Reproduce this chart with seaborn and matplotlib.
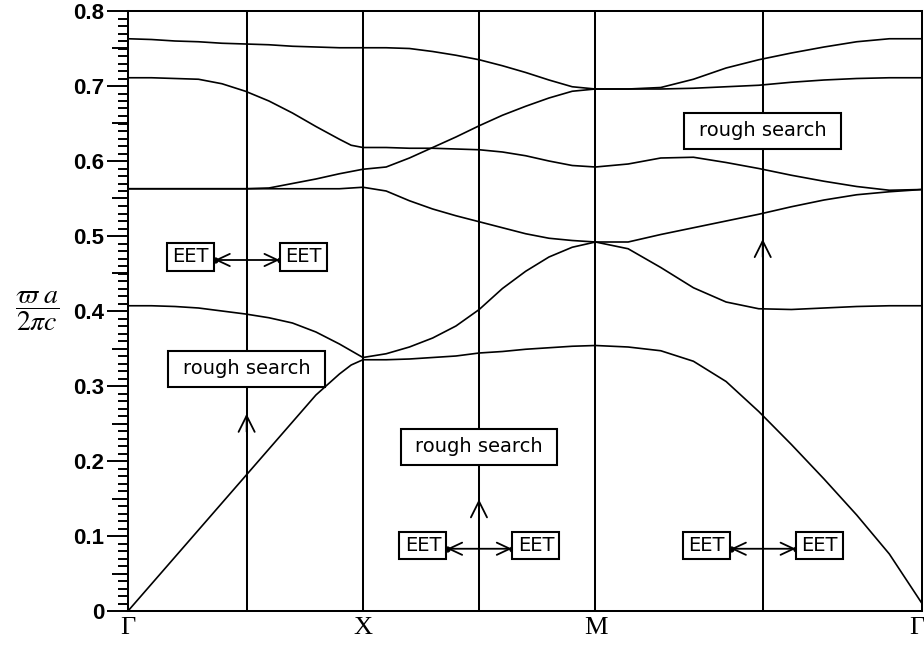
import numpy as np
import pandas as pd
import matplotlib
matplotlib.use("Agg")
import matplotlib.pyplot as plt
import matplotlib.transforms as mtransforms
from matplotlib.ticker import MultipleLocator, NullFormatter
import seaborn as sns

# High-symmetry points along the path Γ-X-M-Γ (path length coordinate)
sym_labels = ["Γ", "X", "M", "Γ"]
sym_k = [0.0, 1.0, 1.99, 3.38]

# Sample positions inside each segment, as fraction of the segment
frac_GX = [0.0, 0.1, 0.2, 0.3, 0.4, 0.5, 0.6, 0.7, 0.8, 0.9, 0.95, 1.0]
frac_XM = [0.1, 0.2, 0.3, 0.4, 0.5, 0.6, 0.7, 0.8, 0.9, 1.0]
frac_MG = [0.1, 0.2, 0.3, 0.4, 0.5, 0.6, 0.7, 0.8, 0.9, 1.0]

# Normalised frequencies (ωa/2πc) of the six lowest bands
band1 = ([0.000, 0.036, 0.072, 0.108, 0.144, 0.180, 0.216, 0.252, 0.288, 0.316, 0.328, 0.335]
         + [0.335, 0.336, 0.338, 0.340, 0.344, 0.346, 0.349, 0.351, 0.353, 0.354]
         + [0.352, 0.347, 0.333, 0.306, 0.266, 0.222, 0.176, 0.128, 0.076, 0.010])
band2 = ([0.407, 0.407, 0.406, 0.404, 0.400, 0.396, 0.391, 0.384, 0.372, 0.356, 0.347, 0.338]
         + [0.343, 0.352, 0.364, 0.380, 0.402, 0.430, 0.453, 0.472, 0.485, 0.492]
         + [0.483, 0.458, 0.431, 0.412, 0.403, 0.402, 0.404, 0.406, 0.407, 0.407])
band3 = ([0.563, 0.563, 0.563, 0.563, 0.563, 0.563, 0.563, 0.563, 0.563, 0.563, 0.564, 0.565]
         + [0.560, 0.547, 0.536, 0.527, 0.519, 0.511, 0.503, 0.497, 0.494, 0.492]
         + [0.492, 0.502, 0.511, 0.520, 0.529, 0.539, 0.548, 0.555, 0.559, 0.562])
band4 = ([0.563, 0.563, 0.563, 0.563, 0.563, 0.563, 0.564, 0.570, 0.576, 0.583, 0.586, 0.589]
         + [0.592, 0.604, 0.618, 0.632, 0.647, 0.661, 0.673, 0.684, 0.693, 0.696]
         + [0.696, 0.696, 0.697, 0.699, 0.701, 0.705, 0.708, 0.710, 0.711, 0.711])
band5 = ([0.711, 0.711, 0.710, 0.709, 0.703, 0.693, 0.680, 0.664, 0.646, 0.629, 0.621, 0.618]
         + [0.618, 0.617, 0.617, 0.616, 0.615, 0.612, 0.607, 0.600, 0.594, 0.592]
         + [0.596, 0.604, 0.605, 0.598, 0.590, 0.581, 0.573, 0.566, 0.561, 0.562])
band6 = ([0.763, 0.762, 0.760, 0.759, 0.757, 0.756, 0.755, 0.753, 0.752, 0.751, 0.751, 0.751]
         + [0.751, 0.750, 0.746, 0.741, 0.735, 0.727, 0.718, 0.708, 0.699, 0.696]
         + [0.696, 0.698, 0.709, 0.724, 0.735, 0.744, 0.752, 0.759, 0.763, 0.763])

# k-points where the searches are run, and where their annotations sit
search_k = [0.505, 1.494, 2.702]
rough_f = [0.323, 0.219, 0.640]
arrow_tip_f = [0.263, 0.149, 0.496]
eet_f = [0.468, 0.083, 0.083]

y_ticks = [0.0, 0.1, 0.2, 0.3, 0.4, 0.5, 0.6, 0.7, 0.8]
y_tick_labels = ["0", "0.1", "0.2", "0.3", "0.4", "0.5", "0.6", "0.7", "0.8"]

# ---------------------------------------------------------------------------
def seg(k0, k1, fr):
    return [k0 + f * (k1 - k0) for f in fr]

k_path = (seg(sym_k[0], sym_k[1], frac_GX)
          + seg(sym_k[1], sym_k[2], frac_XM)
          + seg(sym_k[2], sym_k[3], frac_MG))

bands = [band1, band2, band3, band4, band5, band6]
df = pd.concat(
    [pd.DataFrame({"k": k_path, "freq": b, "band": i + 1}) for i, b in enumerate(bands)],
    ignore_index=True,
)

sns.set_style("white")
plt.rcParams["mathtext.fontset"] = "stix"
plt.rcParams["text.color"] = "black"
plt.rcParams["axes.labelcolor"] = "black"

fig = plt.figure(figsize=(9.24, 6.49), dpi=100)
ax = fig.add_axes([128 / 924, 38 / 649, 794 / 924, 600 / 649])

sns.lineplot(data=df, x="k", y="freq", units="band", estimator=None, sort=False,
             color="black", lw=1.2, ax=ax, legend=False)

ax.set_xlim(sym_k[0], sym_k[-1])
ax.set_ylim(0, 0.8)

# vertical lines at X, M and the search k-points
for kv in sym_k[1:-1] + search_k:
    ax.axvline(kv, color="black", lw=1.45, zorder=2)

for side in ["left", "bottom", "top", "right"]:
    ax.spines[side].set_visible(True)
    ax.spines[side].set_color("black")
    ax.spines[side].set_linewidth(1.45)

# axes ticks
ax.set_xticks(sym_k, labels=sym_labels, fontfamily="Liberation Serif", fontsize=19,
              color="black")
ax.tick_params(axis="x", length=0, pad=4, colors="black")
last = ax.get_xticklabels()[-1]
last.set_horizontalalignment("right")
last.set_transform(last.get_transform() + mtransforms.Affine2D().translate(2, 0))

ax.set_yticks(y_ticks, labels=y_tick_labels, fontfamily="Liberation Sans",
              fontweight="bold", fontsize=16, color="black")
ax.yaxis.set_minor_locator(MultipleLocator(0.01))
ax.tick_params(axis="y", which="major", direction="out", length=15, width=1.4,
               pad=2, colors="black", left=True)
ax.tick_params(axis="y", which="minor", direction="out", length=7, width=1.4,
               colors="black", left=True)

# intermediate ticks every 0.05
sec = ax.secondary_yaxis("left")
sec.set_yticks(np.arange(0.05, 0.8, 0.1))
sec.yaxis.set_major_formatter(NullFormatter())
sec.tick_params(axis="y", direction="out", length=11.5, width=1.4, colors="black")
sec.spines["left"].set_visible(False)

ax.set_xlabel("")
ax.set_ylabel(r"$\dfrac{\varpi\ a}{2\pi c}$", rotation=0, fontsize=20,
              ha="center", va="center", color="black")
ax.yaxis.set_label_coords(-0.1146, 0.5)

# annotation boxes
def boxed(text_artist, aspect):
    text_artist.get_bbox_patch().set_mutation_aspect(aspect)
    return text_artist

box_kw = dict(fc="white", ec="black", lw=1.5)
for kv, fv in zip(search_k, rough_f):
    t = ax.text(kv, fv, "rough search", ha="center", va="center", fontsize=14,
                family="DejaVu Sans", color="black", zorder=6,
                bbox=dict(boxstyle="square,pad=0.75", **box_kw))
    boxed(t, 0.6)

chev = dict(color="black", lw=1.3, shrinkA=0, shrinkB=0, mutation_scale=20)
for kv, fv in zip(search_k, arrow_tip_f):
    ax.annotate("", xy=(kv, fv), xytext=(0, -18), textcoords="offset pixels",
                arrowprops=dict(arrowstyle="->,head_length=0.58,head_width=0.29", **chev),
                zorder=4)

for kv, fv in zip(search_k, eet_f):
    for dx in (-56, 57):
        t = ax.annotate("EET", xy=(kv, fv), xytext=(dx, 3), textcoords="offset pixels",
                        ha="center", va="center", fontsize=14, family="DejaVu Sans",
                        color="black", zorder=6,
                        bbox=dict(boxstyle="square,pad=0.27", **box_kw))
        boxed(t, 0.8)
    tr_l = mtransforms.offset_copy(ax.transData, fig=fig, x=-32, y=0, units="dots")
    tr_r = mtransforms.offset_copy(ax.transData, fig=fig, x=33, y=0, units="dots")
    ax.annotate("", xy=(kv, fv), xycoords=tr_r, xytext=(kv, fv), textcoords=tr_l,
                arrowprops=dict(arrowstyle="<->,head_length=0.47,head_width=0.22", **chev),
                zorder=4)
    ax.plot([kv], [fv], "o", ms=3.5, color="black", transform=tr_l, zorder=5)
    ax.plot([kv], [fv], "o", ms=3.5, color="black", transform=tr_r, zorder=5)

fig.savefig("out.png", dpi=100)
